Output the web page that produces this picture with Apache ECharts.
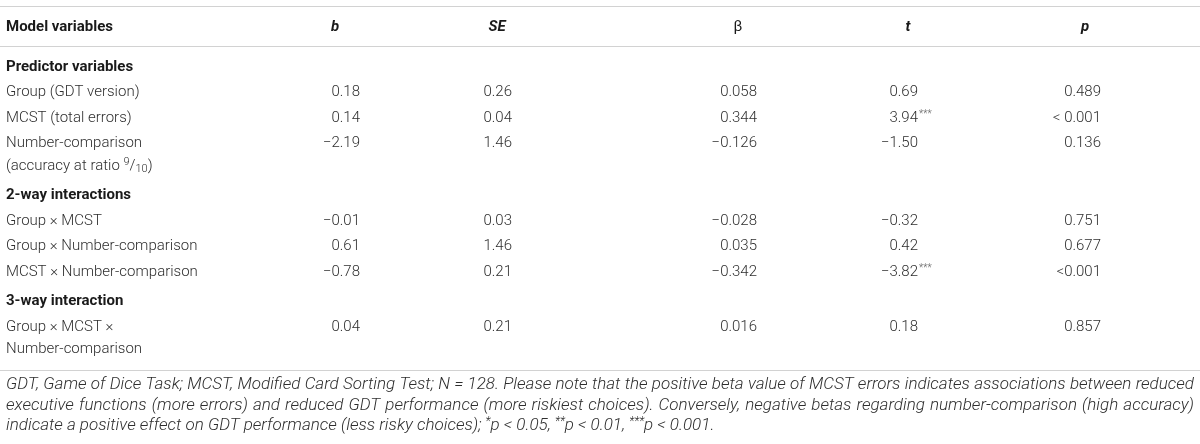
<!DOCTYPE html>
<html>
<head>
<meta charset="utf-8">
<title>Regression table</title>
<script src="https://cdn.jsdelivr.net/npm/echarts@6/dist/echarts.min.js"></script>
<style>
  html, body { margin: 0; background: #fff; }
  #chart { width: 1200px; height: 444px; }
</style>
</head>
<body>
<div id="chart"></div>
<script>
// --- table content ---
const headers = ['Model variables', 'b', 'SE', 'β', 't', 'p'];
const sectionTitles = ['Predictor variables', '2-way interactions', '3-way interaction'];
const sectionRows = [3, 3, 1]; // rows in each section

const rowLabels = [
  ['Group (GDT version)'],
  ['MCST (total errors)'],
  ['Number-comparison', '(accuracy at ratio {sup|9}/{sub|10})'],
  ['Group × MCST'],
  ['Group × Number-comparison'],
  ['MCST × Number-comparison'],
  ['Group × MCST ×', 'Number-comparison']
];
const bValues = [0.18, 0.14, -2.19, -0.01, 0.61, -0.78, 0.04];
const seValues = [0.26, 0.04, 1.46, 0.03, 1.46, 0.21, 0.21];
const betaValues = [0.058, 0.344, -0.126, -0.028, 0.035, -0.342, 0.016];
const tValues = [0.69, 3.94, -1.50, -0.32, 0.42, -3.82, 0.18];
const tStars = ['', '***', '', '', '', '***', ''];
const pValues = ['0.489', '< 0.001', '0.136', '0.751', '0.677', '<0.001', '0.857'];

const footnoteLines = [
  'GDT, Game of Dice Task; MCST, Modified Card Sorting Test; N = 128. Please note that the positive beta value of MCST errors indicates associations between reduced',
  'executive functions (more errors) and reduced GDT performance (more riskiest choices). Conversely, negative betas regarding number-comparison (high accuracy)',
  'indicate a positive effect on GDT performance (less risky choices); {sup|*}p < 0.05, {sup|**}p < 0.01, {sup|***}p < 0.001.'
];

// --- look ---
const FONT = 'Roboto, "Liberation Sans", sans-serif';
const TEXT = '#2e2e2e';
const HEAD = '#1a1a1a';
const RULE = '#d2d2d2';
const SIZE = 15;

const colRight = [null, 360, 512, 757, 918, 1101]; // numbers right-aligned
const headCenter = [null, 335, 497, 738, 908, 1085];

const measureCtx = document.createElement('canvas').getContext('2d');
function textWidth(str, o) {
  measureCtx.font = `${o.fontStyle || 'normal'} ${o.fontWeight || 'normal'} ${o.fontSize}px ${FONT}`;
  return measureCtx.measureText(str).width;
}

function textEl(x, y, text, o, align) {
  return {
    type: 'text', x: x, y: y, silent: true,
    style: {
      text: text,
      fontFamily: FONT,
      fontSize: o.fontSize,
      fontWeight: o.fontWeight || 'normal',
      fontStyle: o.fontStyle || 'normal',
      fill: o.fill || TEXT,
      align: align || 'left', textAlign: align || 'left',
      verticalAlign: 'middle', textVerticalAlign: 'middle'
    }
  };
}

// left-aligned text with {sup|..} / {sub|..} pieces
function segmentsEl(x, y, str, o) {
  const els = [];
  const parts = str.split(/(\{(?:sup|sub)\|[^}]*\})/).filter(Boolean);
  let cx = x;
  parts.forEach(function (part) {
    const m = part.match(/^\{(sup|sub)\|([^}]*)\}$/);
    if (m) {
      const so = Object.assign({}, o, { fontSize: Math.round(o.fontSize * 0.7) });
      const dy = m[1] === 'sup' ? -4 : 3;
      els.push(textEl(cx, y + dy, m[2], so, 'left'));
      cx += textWidth(m[2], so);
    } else {
      els.push(textEl(cx, y, part, o, 'left'));
      cx += textWidth(part, o);
    }
  });
  return els;
}

function fmt(v, digits) {
  return v.toFixed(digits).replace('-', '\u2212');
}

const els = [];
const body = { fontSize: SIZE, fontWeight: 300 };
const bold = { fontSize: SIZE, fontWeight: 'bold', fill: HEAD };

function rule(y) {
  els.push({
    type: 'line', silent: true,
    shape: { x1: 0, y1: y + 0.5, x2: 1200, y2: y + 0.5 },
    style: { stroke: RULE, lineWidth: 1 }
  });
}

// header
rule(6);
const headY = 27;
els.push(textEl(6, headY, headers[0], bold, 'left'));
headers.slice(1).forEach(function (h, i) {
  const o = h === 'β' ? { fontSize: SIZE, fill: HEAD } : Object.assign({}, bold, { fontStyle: 'italic' });
  els.push(textEl(headCenter[i + 1], headY, h, o, 'center'));
});
rule(46);

// body
const R = 25.5, W = 22.5, S = 4;
let y = 67;
let r = 0;
sectionTitles.forEach(function (title, s) {
  if (s > 0) y += R + S;
  els.push(textEl(6, y, title, bold, 'left'));
  for (let k = 0; k < sectionRows[s]; k++, r++) {
    y += R;
    rowLabels[r].forEach(function (line, j) {
      segmentsEl(6, y + j * W, line, body).forEach(function (e) { els.push(e); });
    });
    els.push(textEl(colRight[1], y, fmt(bValues[r], 2), body, 'right'));
    els.push(textEl(colRight[2], y, fmt(seValues[r], 2), body, 'right'));
    els.push(textEl(colRight[3], y, fmt(betaValues[r], 3), body, 'right'));
    els.push(textEl(colRight[4], y, fmt(tValues[r], 2), body, 'right'));
    if (tStars[r]) {
      els.push(textEl(colRight[4] + 1, y - 4, tStars[r], { fontSize: 10, fontWeight: 300, fill: '#666' }, 'left'));
    }
    els.push(textEl(colRight[5], y, pValues[r], body, 'right'));
    y += W * (rowLabels[r].length - 1);
  }
});

rule(370);

// footnote, first lines justified
const note = { fontSize: 17, fontWeight: 300, fontStyle: 'italic' };
const noteLeft = 6, noteRight = 1194;
footnoteLines.forEach(function (line, i) {
  const ly = 385 + i * 20.5;
  if (i < footnoteLines.length - 1) {
    const words = line.split(' ');
    const widths = words.map(function (w) { return textWidth(w, note); });
    const total = widths.reduce(function (a, b) { return a + b; }, 0);
    const gap = (noteRight - noteLeft - total) / (words.length - 1);
    let cx = noteLeft;
    words.forEach(function (w, k) {
      els.push(textEl(cx, ly, w, note, 'left'));
      cx += widths[k] + gap;
    });
  } else {
    segmentsEl(noteLeft, ly, line, note).forEach(function (e) { els.push(e); });
  }
});

const chart = echarts.init(document.getElementById('chart'), null, { renderer: 'canvas' });
chart.setOption({
  backgroundColor: '#fff',
  animation: false,
  graphic: { elements: els }
});
</script>
</body>
</html>
